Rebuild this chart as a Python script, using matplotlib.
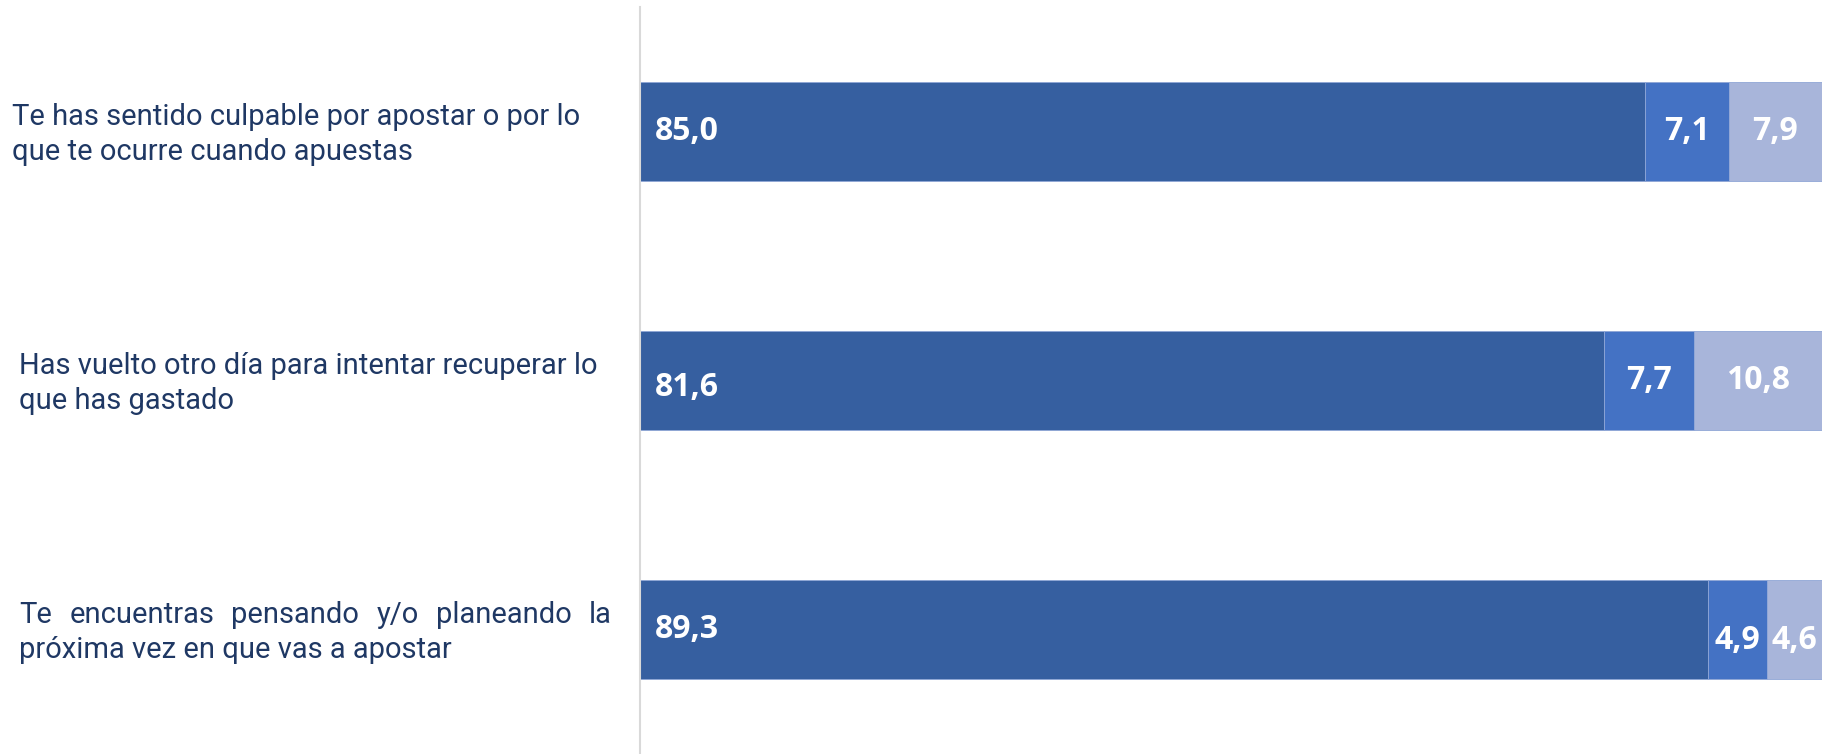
import numpy as np
import matplotlib
matplotlib.use("Agg")
import matplotlib.pyplot as plt
from matplotlib.transforms import blended_transform_factory

# survey items (top to bottom) and the three answer shares, in %
items = [
    ["Te has sentido culpable por apostar o por lo", "que te ocurre cuando apuestas"],
    ["Has vuelto otro día para intentar recuperar lo", "que has gastado"],
    ["Te encuentras pensando y/o planeando la", "próxima vez en que vas a apostar"],
]
nunca = [85.0, 81.6, 89.3]
alguna_vez = [7.1, 7.7, 4.9]
a_menudo = [7.9, 10.8, 4.6]

colors = ["#365FA0", "#4472C4", "#A8B5DA"]
label_color = "#1F3864"

# small vertical nudges for some value labels (series, item) -> data units
nudge = {(0, 1): 0.03, (1, 2): 0.045, (2, 2): 0.045}

fig = plt.figure(figsize=(18.22, 7.54), dpi=100)
ax = fig.add_axes([640 / 1822, 0, 1 - 640 / 1822, 1 - 7 / 754])

y = np.arange(len(items))
series = np.array([nunca, alguna_vez, a_menudo])
totals = series.sum(axis=0)
# 100% stacked: each bar is scaled to its own total
left = np.zeros(len(items))
for k, raw in enumerate(series):
    width = raw / totals * 100
    ax.barh(y, width, left=left, height=0.4, color=colors[k],
            edgecolor="#8FA6D6", linewidth=0.6)
    for i, v in enumerate(raw):
        txt = f"{v:.1f}".replace(".", ",")
        ty = y[i] + nudge.get((k, i), 0)
        if k == 0:
            ax.text(left[i] + 1.3, ty, txt, ha="left", va="center",
                    color="white", fontsize=23, fontweight="bold",
                    family="Open Sans")
        else:
            ax.text(left[i] + width[i] / 2, ty, txt, ha="center",
                    va="center", color="white", fontsize=23,
                    fontweight="bold", family="Open Sans")
    left += width

ax.set_xlim(0, 100)
ax.set_ylim(2.5, -0.5)
ax.set_xticks([])
ax.set_yticks([])
for s in ["top", "right", "bottom"]:
    ax.spines[s].set_visible(False)
ax.spines["left"].set_color("#D9D9D9")
ax.spines["left"].set_linewidth(1.5)

# category labels in the left margin; the last one is justified
tr = blended_transform_factory(fig.transFigure, ax.transData)
label_x = [12, 19, 19]
justify = [False, False, True]
line_gap = 0.14
fs = 21
renderer = fig.canvas.get_renderer()
for i, lines in enumerate(items):
    for j, line in enumerate(lines):
        ly = y[i] + 0.012 + (j - 0.5) * line_gap
        if justify[i] and j == 0:
            words = line.split(" ")
            arts = [ax.text(0, ly, w, transform=tr, ha="left", va="center",
                            fontsize=fs, color=label_color, family="Roboto")
                    for w in words]
            widths = [a.get_window_extent(renderer).width for a in arts]
            x0, x1 = label_x[i], 612
            gap = (x1 - x0 - sum(widths)) / (len(words) - 1)
            xp = x0
            for a, w in zip(arts, widths):
                a.set_x(xp / 1822)
                xp += w + gap
        else:
            ax.text(label_x[i] / 1822, ly, line, transform=tr, ha="left",
                    va="center", fontsize=fs, color=label_color,
                    family="Roboto")

fig.savefig("out.png", dpi=100)
